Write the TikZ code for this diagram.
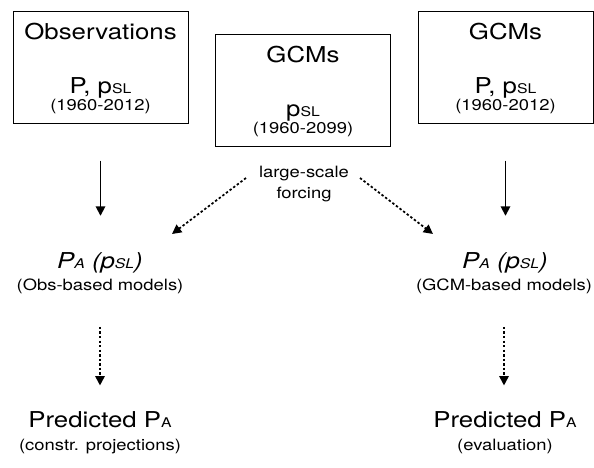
\documentclass[tikz,border=0pt]{standalone}
\usepackage{fontspec}
\setmainfont{TeX Gyre Heros}[FakeStretch=1.18]
\usetikzlibrary{arrows.meta}
\newcommand{\lowtxt}[1]{{\fontsize{10}{10}\selectfont #1}}
\tikzset{
  src box/.style={draw, line width=0.6pt, minimum width=131.25pt, minimum height=84pt, inner sep=0pt},
  big label/.style={font=\fontsize{16.4}{18}\selectfont, anchor=base, inner sep=0pt},
  small label/.style={font=\fontsize{11.7}{14}\selectfont, anchor=base, inner sep=0pt},
  flow arrow/.style={-{Triangle[length=7pt,width=7pt]}, line width=1.3pt},
  dot arrow/.style={flow arrow, dash pattern=on 1.8pt off 1.6pt},
}
\begin{document}
\begin{tikzpicture}[x=0.75pt, y=-0.75pt]
  \useasboundingbox (0,0) rectangle (594,468);
  % Source boxes
  \node[src box] (obs) at (100.5,67) {};
  \node[big label] (obsT) at (100.5,39) {Observations};
  \node[big label] (obsV) at (100.5,93) {P, p\lowtxt{SL}};
  \node[small label] (obsY) at (100.5,110) {(1960-2012)};
  \node[src box] (gcmF) at (303,90) {};
  \node[big label] (gcmFT) at (303,62) {GCMs};
  \node[big label] (gcmFV) at (303,116) {p\lowtxt{SL}};
  \node[small label] (gcmFY) at (303,133) {(1960-2099)};
  \node[src box] (gcmH) at (505.5,67) {};
  \node[big label] (gcmHT) at (505.5,39) {GCMs};
  \node[big label] (gcmHV) at (505.5,93) {P, p\lowtxt{SL}};
  \node[small label] (gcmHY) at (505.5,110) {(1960-2012)};
  % Statistical models
  \node[big label, font=\fontsize{16.4}{18}\selectfont\itshape] (paL) at (100,268) {P\lowtxt{A} (p\lowtxt{SL})};
  \node[small label] (modL) at (100,290) {(Obs-based models)};
  \node[big label, font=\fontsize{16.4}{18}\selectfont\itshape] (paR) at (505,268) {P\lowtxt{A} (p\lowtxt{SL})};
  \node[small label] (modR) at (504,290) {(GCM-based models)};
  % Predictions
  \node[big label] (predL) at (100,427) {Predicted P\lowtxt{A}};
  \node[small label] (useL) at (100,450) {(constr. projections)};
  \node[big label] (predR) at (505,427) {Predicted P\lowtxt{A}};
  \node[small label] (useR) at (505,450) {(evaluation)};
  % Forcing label
  \node[small label] (forc1) at (304,177) {large-scale};
  \node[small label] (forc2) at (304,198) {forcing};
  % Connectors
  \draw[flow arrow, shorten <=28pt, shorten >=27pt] (obs.south) -- (obs.south |- paL.north);
  \draw[flow arrow, shorten <=28pt, shorten >=27pt] (gcmH.south) -- (gcmH.south |- paR.north);
  \coordinate (forceL) at (246,178);
  \coordinate (forceR) at (360,178);
  \coordinate (inL) at (172,234);
  \coordinate (inR) at (433,234);
  \draw[dot arrow] (forceL) -- (inL);
  \draw[dot arrow] (forceR) -- (inR);
  \draw[dot arrow, shorten <=25pt, shorten >=19pt] (modL.south) -- (modL.south |- predL.north);
  \draw[dot arrow, shorten <=25pt, shorten >=19pt] (modR.south) -- (modR.south |- predR.north);
\end{tikzpicture}
\end{document}
